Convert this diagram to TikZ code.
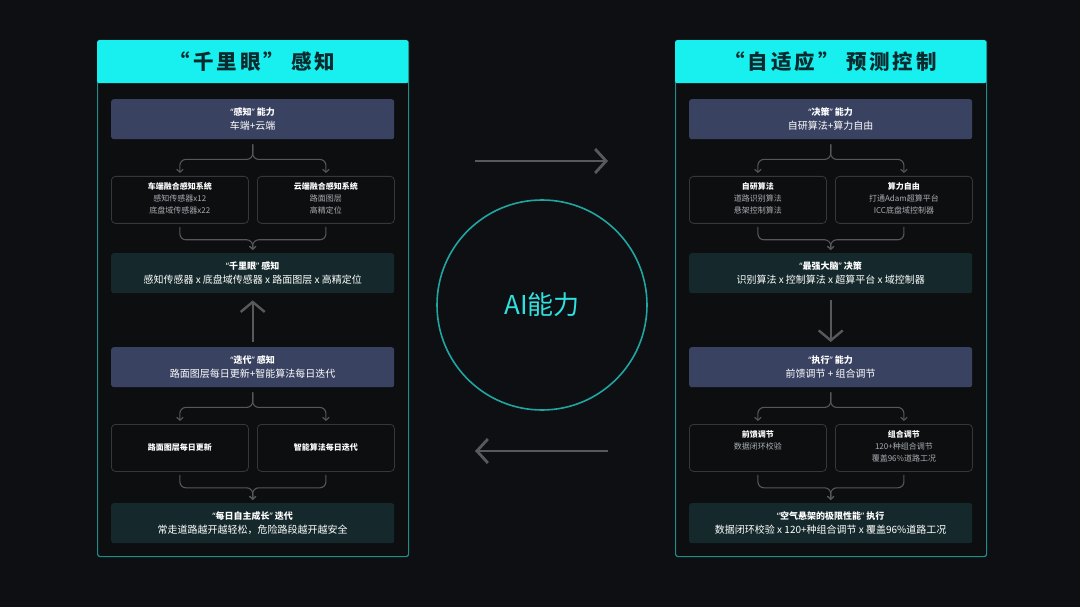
\documentclass[tikz,border=0pt]{standalone}
\usepackage{fontspec}
\setmainfont{Noto Sans CJK SC}
\newfontfamily\qf{Noto Sans}
\usetikzlibrary{arrows.meta}
\definecolor{bg}{HTML}{0E0F12}
\definecolor{panelbg}{HTML}{0C0E10}
\definecolor{tealb}{HTML}{1E8C89}
\definecolor{cyanh}{HTML}{17F0EE}
\definecolor{titlec}{HTML}{0A2A2E}
\definecolor{slate}{HTML}{3A4262}
\definecolor{tealdark}{HTML}{15292C}
\definecolor{subline}{HTML}{34373C}
\definecolor{connc}{HTML}{55575B}
\definecolor{arrowc}{HTML}{58595C}
\definecolor{circc}{HTML}{1FA5A2}
\definecolor{aitext}{HTML}{2FE0E0}
\definecolor{sub1}{HTML}{B3B8C4}
\definecolor{sub2}{HTML}{AAB2B4}
\definecolor{smalltxt}{HTML}{A9ADB3}
\tikzset{
 panel/.style={draw=tealb, line width=1.2pt, fill=panelbg, rounded corners=2.5pt,
   minimum width=311pt, minimum height=516pt, anchor=north west, inner sep=0pt},
 hdr/.style={fill=cyanh, rounded corners=2pt, minimum width=311pt, minimum height=43pt,
   anchor=north west, inner sep=0pt, text=titlec,
   font=\fontsize{20.5}{24}\selectfont\bfseries\addfontfeature{LetterSpace=14}},
 capbox/.style={fill=slate, rounded corners=2.5pt, minimum width=283pt, minimum height=40pt,
   anchor=north west, inner sep=0pt, align=center, text=white},
 sumbox/.style={fill=tealdark, rounded corners=2.5pt, minimum width=283pt, minimum height=40pt,
   anchor=north west, inner sep=0pt, align=center, text=white},
 subbox/.style={draw=subline, line width=0.8pt, rounded corners=4pt, minimum width=137pt,
   minimum height=47pt, anchor=north west, inner sep=0pt},
 subtxt/.style={anchor=north, inner sep=0pt, align=center, text=white,
   font=\fontsize{8}{12}\selectfont},
 conn/.style={draw=connc, line width=1.1pt, rounded corners=6pt,
   -{Straight Barb[length=3pt,width=6.5pt]}},
 midarrow/.style={draw=arrowc, line width=2.4pt,
   -{Straight Barb[length=10pt,width=24pt]}},
 bigarrow/.style={draw=arrowc, line width=2.8pt,
   -{Straight Barb[length=11pt,width=24pt]}},
}
\newcommand{\hd}[3]{{\fontsize{9}{15}\selectfont\bfseries{\qf “}#1{\qf ”} #2}\\[2.5pt]{\fontsize{9.5}{15}\selectfont\color{#3}}}
\begin{document}
\begin{tikzpicture}[x=1pt,y=-1pt]
\fill[bg] (0,0) rectangle (1080,607);
\useasboundingbox (0,0) rectangle (1080,607);

% ---------------- left panel ----------------
\node[panel] (LP) at (97,40) {};
\node[hdr] (LH) at (97,40) {“千里眼” 感知};
\node[capbox] (L1) at (111,99) {\hd{感知}{能力}{sub1}车端+云端};
\node[subbox] (L2a) at (111,176) {};
\node[subbox] (L2b) at (257,176) {};
\node[subtxt] (L2at) at ([yshift=-6pt]L2a.north) {{\bfseries 车端融合感知系统}\\{\color{smalltxt}感知传感器x12}\\{\color{smalltxt}底盘域传感器x22}};
\node[subtxt] (L2bt) at ([yshift=-6pt]L2b.north) {{\bfseries 云端融合感知系统}\\{\color{smalltxt}路面图层}\\{\color{smalltxt}高精定位}};
\node[sumbox] (L3) at (111,253) {\hd{千里眼}{感知}{sub2}感知传感器 x 底盘域传感器 x 路面图层 x 高精定位};
\node[capbox] (L4) at (111,347) {\hd{迭代}{感知}{sub1}路面图层每日更新+智能算法每日迭代};
\node[subbox] (L5a) at (111,424) {};
\node[subbox] (L5b) at (257,424) {};
\node[subtxt, anchor=center] (L5at) at (L5a.center) {\bfseries 路面图层每日更新};
\node[subtxt, anchor=center] (L5bt) at (L5b.center) {\bfseries 智能算法每日迭代};
\node[sumbox] (L6) at (111,503) {\hd{每日自主成长}{迭代}{sub2}常走道路越开越轻松，危险路段越开越安全};

\draw[conn] ([yshift=-5pt]L1.south) -- ++(0,15) -| ([yshift=3pt]L2a.north);
\draw[conn] ([yshift=-5pt]L1.south) -- ++(0,15) -| ([yshift=3pt]L2b.north);
\draw[conn] ([yshift=-3pt]L2a.south) -- ++(0,13) -| ([yshift=3pt]L3.north);
\draw[conn] ([yshift=-3pt]L2b.south) -- ++(0,13) -| ([yshift=3pt]L3.north);
\draw[midarrow] ([yshift=5pt]L4.north) -- ([yshift=-7pt]L3.south);
\draw[conn] ([yshift=-5pt]L4.south) -- ++(0,15) -| ([yshift=3pt]L5a.north);
\draw[conn] ([yshift=-5pt]L4.south) -- ++(0,15) -| ([yshift=3pt]L5b.north);
\draw[conn] ([yshift=-3pt]L5a.south) -- ++(0,13) -| ([yshift=3pt]L6.north);
\draw[conn] ([yshift=-3pt]L5b.south) -- ++(0,13) -| ([yshift=3pt]L6.north);

% ---------------- right panel ----------------
\begin{scope}[xshift=578pt]
\node[panel] (RP) at (97,40) {};
\node[hdr] (RH) at (97,40) {“自适应” 预测控制};
\node[capbox] (R1) at (111,99) {\hd{决策}{能力}{sub1}自研算法+算力自由};
\node[subbox] (R2a) at (111,176) {};
\node[subbox] (R2b) at (257,176) {};
\node[subtxt] (R2at) at ([yshift=-6pt]R2a.north) {{\bfseries 自研算法}\\{\color{smalltxt}道路识别算法}\\{\color{smalltxt}悬架控制算法}};
\node[subtxt] (R2bt) at ([yshift=-6pt]R2b.north) {{\bfseries 算力自由}\\{\color{smalltxt}打通Adam超算平台}\\{\color{smalltxt}ICC底盘域控制器}};
\node[sumbox] (R3) at (111,253) {\hd{最强大脑}{决策}{sub2}识别算法 x 控制算法 x 超算平台 x 域控制器};
\node[capbox] (R4) at (111,347) {\hd{执行}{能力}{sub1}前馈调节 + 组合调节};
\node[subbox] (R5a) at (111,424) {};
\node[subbox] (R5b) at (257,424) {};
\node[subtxt] (R5at) at ([yshift=-6pt]R5a.north) {{\bfseries 前馈调节}\\{\color{smalltxt}数据闭环校验}};
\node[subtxt] (R5bt) at ([yshift=-6pt]R5b.north) {{\bfseries 组合调节}\\{\color{smalltxt}120+种组合调节}\\{\color{smalltxt}覆盖96\%道路工况}};
\node[sumbox] (R6) at (111,503) {\hd{空气悬架的极限性能}{执行}{sub2}数据闭环校验 x 120+种组合调节 x 覆盖96\%道路工况};
\end{scope}

\draw[conn] ([yshift=-5pt]R1.south) -- ++(0,15) -| ([yshift=3pt]R2a.north);
\draw[conn] ([yshift=-5pt]R1.south) -- ++(0,15) -| ([yshift=3pt]R2b.north);
\draw[conn] ([yshift=-3pt]R2a.south) -- ++(0,13) -| ([yshift=3pt]R3.north);
\draw[conn] ([yshift=-3pt]R2b.south) -- ++(0,13) -| ([yshift=3pt]R3.north);
\draw[midarrow] ([yshift=-7pt]R3.south) -- ([yshift=5pt]R4.north);
\draw[conn] ([yshift=-5pt]R4.south) -- ++(0,15) -| ([yshift=3pt]R5a.north);
\draw[conn] ([yshift=-5pt]R4.south) -- ++(0,15) -| ([yshift=3pt]R5b.north);
\draw[conn] ([yshift=-3pt]R5a.south) -- ++(0,13) -| ([yshift=3pt]R6.north);
\draw[conn] ([yshift=-3pt]R5b.south) -- ++(0,13) -| ([yshift=3pt]R6.north);

% ---------------- centre ----------------
\node[draw=circc, line width=1.6pt, circle, minimum size=210pt, inner sep=0pt,
  text=aitext, font=\fontsize{26}{30}\selectfont] (AI) at (542,305) {AI能力};
\coordinate (TA1) at (475,161);
\coordinate (TA2) at (608,161);
\coordinate (BA1) at (608,451);
\coordinate (BA2) at (475,451);
\draw[bigarrow] (TA1) -- (TA2);
\draw[bigarrow] (BA1) -- (BA2);
\end{tikzpicture}
\end{document}
